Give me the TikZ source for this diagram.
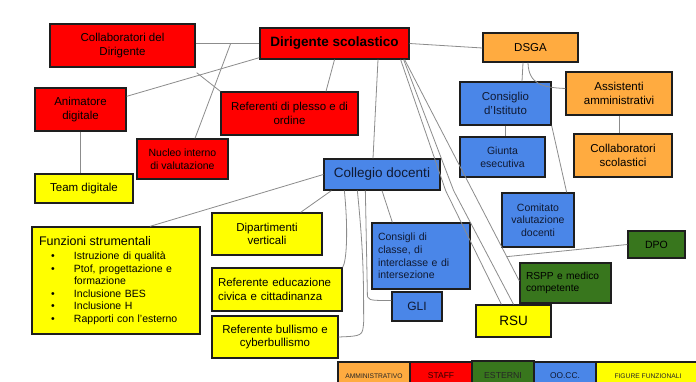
\documentclass[tikz,border=0pt]{standalone}
\usepackage{fontspec}
\setmainfont{Liberation Sans}
\usetikzlibrary{calc}
\definecolor{cred}{HTML}{FF0000}
\definecolor{corange}{HTML}{FFAB40}
\definecolor{cyellow}{HTML}{FFFF00}
\definecolor{cblue}{HTML}{4A86E8}
\definecolor{cgreen}{HTML}{38761D}
\definecolor{cborder}{HTML}{1E1E1E}
\definecolor{cline}{HTML}{8C8C8C}
\definecolor{cbluetext}{HTML}{101A33}
\tikzset{
  box/.style={draw=cborder, line width=1.3pt, inner sep=2pt, align=center, text=black,
    font=\fontsize{11.5}{13.5}\selectfont},
  redbox/.style={box, fill=cred},
  orangebox/.style={box, fill=corange},
  yellowbox/.style={box, fill=cyellow},
  bluebox/.style={box, fill=cblue, text=cbluetext},
  greenbox/.style={box, fill=cgreen, text=black},
  wh/.style 2 args={minimum width=#1pt, minimum height=#2pt},
  lefttext/.style={align=left, text width=#1pt, inner xsep=6pt},
  smalltext/.style={font=\fontsize{10.5}{12.6}\selectfont},
  bigtext/.style={font=\fontsize{13.5}{15}\selectfont},
  conn/.style={draw=cline, line width=0.8pt},
  legbox/.style={draw=cborder, line width=1.3pt, inner sep=1pt, text=black!85}
}
\begin{document}
\begin{tikzpicture}[x=1pt,y=-1pt]
\useasboundingbox (0,0) rectangle (696,382);
\fill[white] (0,0) rectangle (696,382);

% STAFF
\node[redbox, wh={145}{43}] (collab) at (122.5,45.5) {Collaboratori del\\Dirigente};
\node[redbox, wh={149}{31}, font=\fontsize{13.5}{15}\selectfont\bfseries] (dir) at (334.5,43.5) {Dirigente scolastico};
\node[redbox, wh={91}{43}] (anim) at (80.5,109.5) {Animatore\\digitale};
\node[redbox, wh={137}{43}] (refpl) at (289.5,113.5) {Referenti di plesso e di\\ordine};
\node[redbox, wh={91}{40}, smalltext] (nucleo) at (182.5,159) {Nucleo interno\\di valutazione};

% AMMINISTRATIVO
\node[orangebox, wh={95}{29}] (dsga) at (530.5,47.5) {DSGA};
\node[orangebox, wh={106}{43}] (assist) at (619,93.5) {Assistenti\\amministrativi};
\node[orangebox, wh={98}{43}] (collsc) at (623,155.5) {Collaboratori\\scolastici};

% OO.CC.
\node[bluebox, wh={91}{43}] (consist) at (505.5,103.5) {Consiglio\\d’Istituto};
\node[bluebox, wh={85}{40}, smalltext] (giunta) at (502.5,157) {Giunta\\esecutiva};
\node[bluebox, wh={116}{31}, bigtext] (colleg) at (382,174.5) {Collegio docenti};
\node[bluebox, wh={98}{66}, smalltext, lefttext=86] (consc) at (421,256) {Consigli di\\classe, di\\interclasse e di\\intersezione};
\node[bluebox, wh={50}{29}, font=\fontsize{12}{14}\selectfont] (gli) at (417,306.5) {GLI};
\node[bluebox, wh={72}{54}, smalltext] (comit) at (538,220) {Comitato\\valutazione\\docenti};

% ESTERNI
\node[greenbox, wh={57}{27}, smalltext] (dpo) at (656.5,244.5) {DPO};
\node[greenbox, wh={91}{40}, font=\fontsize{10.2}{12.4}\selectfont, lefttext=79] (rspp) at (565.5,283) {RSPP e medico\\competente};

% FIGURE FUNZIONALI
\node[yellowbox, wh={98}{29}] (team) at (84,188.5) {Team digitale};
\node[yellowbox, wh={168}{107}, align=left, text width=154pt, inner xsep=7pt,
  font=\fontsize{10.5}{12.6}\selectfont] (funz) at (116,280.5) {%
  {\fontsize{12.5}{15}\selectfont Funzioni strumentali}\par\vspace{1.5pt}
  \hspace*{12pt}\makebox[23pt][l]{\textbullet}Istruzione di qualità\\
  \hspace*{12pt}\makebox[23pt][l]{\textbullet}Ptof, progettazione e\\
  \hspace*{35pt}formazione\\
  \hspace*{12pt}\makebox[23pt][l]{\textbullet}Inclusione BES\\
  \hspace*{12pt}\makebox[23pt][l]{\textbullet}Inclusione H\\
  \hspace*{12pt}\makebox[23pt][l]{\textbullet}Rapporti con l’esterno};
\node[yellowbox, wh={110}{42}] (dip) at (267,234) {Dipartimenti\\verticali};
\node[yellowbox, wh={130}{43}, lefttext=118] (refed) at (277,289.5) {Referente educazione\\civica e cittadinanza};
\node[yellowbox, wh={126}{42}] (refbul) at (275,337) {Referente bullismo e\\cyberbullismo};
\node[yellowbox, wh={75}{32}, bigtext] (rsu) at (513.5,321) {RSU};

% connectors
\draw[conn] ($(collab.east)+(0,-2)$) -- (dir.west);
\coordinate (j1) at ($(collab.east)+(35,-2)$);
\draw[conn] ($(nucleo.north)+(12.5,0)$) -- (j1);
\draw[conn] ($(anim.north east)+(0,9)$) -- ($(dir.south west)+(0,-2)$);
\draw[conn] ($(collab.south east)+(1,5)$) -- (refpl.north west);
\draw[conn] (dir.south) -- ($(refpl.north)+(36.5,0)$);
\draw[conn] ($(dir.south)+(43.5,0)$) -- ($(colleg.north)+(-9,0)$);
\draw[conn] (dir.east) -- ($(dsga.west)+(0,0.5)$);
\draw[conn] ($(dir.south east)+(-9,0)$) -- ($(colleg.south east)+(5,0)$) -- ($(rsu.north west)+(26,0)$);
\draw[conn] ($(dir.south east)+(-6,0)$) -- ($(colleg.south east)+(13,0)$) -- (rsu.north);
\coordinate (cs) at ($(dir.south east)+(-5,0)$);
\coordinate (ce) at ($(rspp.west)+(0,-2)$);
\draw[conn] (cs) -- (ce);
\coordinate (cd) at ($(cs)!0.89!(ce)$);
\draw[conn] (cd) -- (dpo.west);

\draw[conn] ($(dsga.south)+(-7.5,0)$) -- ($(consist.north)+(16.5,0)$);
\draw[conn] ($(dsga.south)+(-2.5,0)$) .. controls ($(dsga.south)+(-2,22)$) and ($(assist.west)+(-22,-6)$) .. ($(assist.west)+(0,-5)$);
\draw[conn] (assist.south) -- (assist.south |- collsc.north);
\draw[conn] (consist.south) -- (consist.south |- giunta.north);
\draw[conn] (consist.south east) -- ($(comit.north east)+(-8,0)$);
\draw[conn] (anim.south) -- (anim.south |- team.north);

\draw[conn] (colleg.west) -- ($(funz.north)+(34,0)$);
\draw[conn] ($(colleg.south west)+(8,0)$) -- ($(dip.north east)+(-22,0)$);
\draw[conn] ($(colleg.south west)+(21,0)$) .. controls ($(colleg.south west)+(25,40)$) and ($(refed.north east)+(4,-6)$) .. (refed.north east);
\draw[conn] ($(colleg.south west)+(34,0)$) .. controls ($(colleg.south west)+(40,60)$) and ($(refbul.east)+(25,-60)$) .. ($(refbul.east)+(25,-15)$) .. controls ($(refbul.east)+(24,-1)$) .. (refbul.east);
\draw[conn] ($(colleg.south west)+(42,0)$) -- ($(gli.west)+(-24,-14)$) .. controls ($(gli.west)+(-24,-6)$) .. ($(gli.west)+(0,-6)$);
\draw[conn] (colleg.south) -- ($(consc.north west)+(21,0)$);

% legend
\node[legbox, fill=corange, wh={72}{28}, font=\fontsize{6.7}{8}\selectfont] (lamm) at (374,376) {AMMINISTRATIVO};
\node[legbox, fill=cred, wh={62}{28}, font=\fontsize{8.5}{10}\selectfont, text=black!80!red] (lstaff) at (441,376) {STAFF};
\node[legbox, fill=cgreen, wh={62}{29}, font=\fontsize{8.7}{10}\selectfont] (lest) at (503,375.5) {ESTERNI};
\node[legbox, fill=cblue, wh={62}{28}, font=\fontsize{8.4}{10}\selectfont, text=cbluetext] (loocc) at (565,376) {OO.CC.};
\node[legbox, fill=cyellow, wh={104}{28}, font=\fontsize{6.7}{8}\selectfont] (lfig) at (648,376) {FIGURE FUNZIONALI};
\end{tikzpicture}
\end{document}
